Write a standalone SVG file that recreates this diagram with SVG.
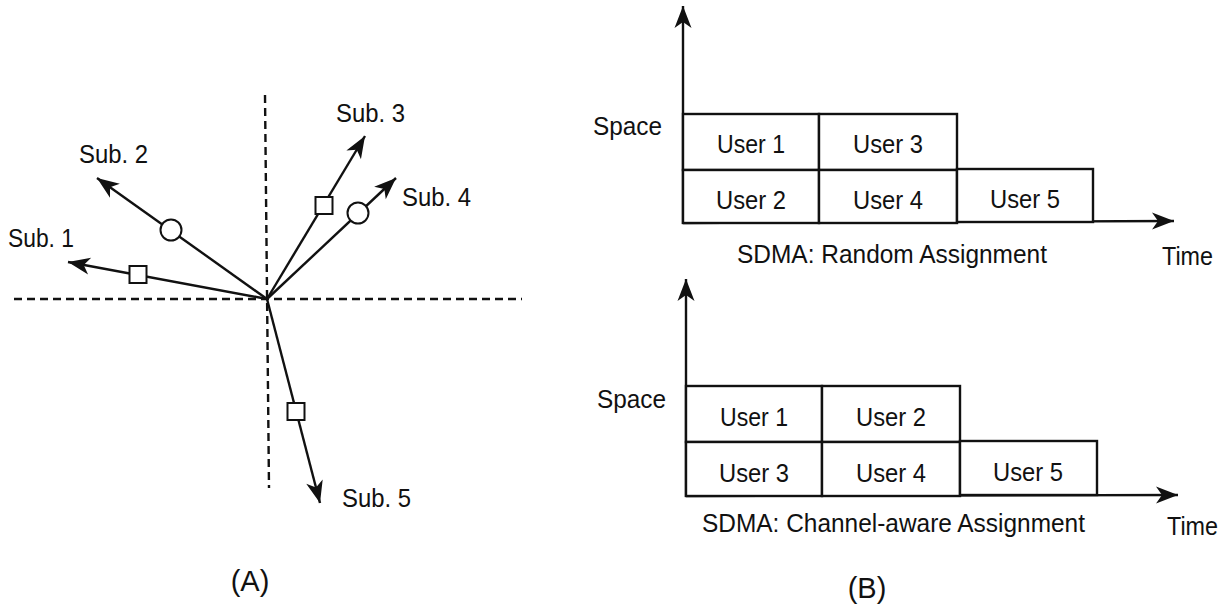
<svg xmlns="http://www.w3.org/2000/svg" width="1230" height="610" viewBox="0 0 1230 610">
<style>
  text { font-family: "Liberation Sans", Arial, sans-serif; font-size: 26px; fill: #111; }
  .lbl { font-size: 29px; }
  .mid { text-anchor: middle; }
  .ax { stroke: #111; stroke-width: 2.4; fill: none; }
  .dash { stroke: #111; stroke-width: 2.4; stroke-dasharray: 8 5; fill: none; }
  .cell { fill: #fff; stroke: #111; stroke-width: 2.4; }
  .mk { fill: #fff; stroke: #111; stroke-width: 2; }
</style>
<defs>
  <marker id="arr" viewBox="-24 -10 26 20" refX="0" refY="0" markerWidth="26" markerHeight="20" markerUnits="userSpaceOnUse" orient="auto">
    <path d="M0,0 L-22,-8.5 L-16,0 L-22,8.5 Z" fill="#111"/>
  </marker>
</defs>
<rect width="1230" height="610" fill="#fff"/>

<!-- Panel A -->
<g id="axesA">
  <line class="dash" x1="14" y1="299" x2="522" y2="299"/>
  <line class="dash" x1="265" y1="95" x2="269" y2="488"/>
</g>
<g id="connectors">
  <line class="ax" x1="267" y1="299" x2="68" y2="262" marker-end="url(#arr)"/>
  <line class="ax" x1="267" y1="299" x2="97" y2="178" marker-end="url(#arr)"/>
  <line class="ax" x1="267" y1="299" x2="365" y2="136" marker-end="url(#arr)"/>
  <line class="ax" x1="267" y1="299" x2="396" y2="178" marker-end="url(#arr)"/>
  <line class="ax" x1="267" y1="299" x2="320" y2="503" marker-end="url(#arr)"/>
  <line class="ax" x1="683" y1="224" x2="683" y2="6" marker-end="url(#arr)"/>
  <line class="ax" x1="683" y1="223" x2="1174" y2="221" marker-end="url(#arr)"/>
  <line class="ax" x1="686" y1="497" x2="686" y2="279" marker-end="url(#arr)"/>
  <line class="ax" x1="686" y1="496" x2="1178" y2="495" marker-end="url(#arr)"/>
</g>
<g id="sub1">
  <rect class="mk" x="129.5" y="266" width="17" height="17"/>
  <text x="8" y="247" textLength="66" lengthAdjust="spacingAndGlyphs">Sub. 1</text>
</g>
<g id="sub2">
  <circle class="mk" cx="171" cy="230" r="10.5"/>
  <text x="79" y="163" textLength="69" lengthAdjust="spacingAndGlyphs">Sub. 2</text>
</g>
<g id="sub3">
  <rect class="mk" x="315.5" y="197" width="17" height="17"/>
  <text x="336" y="122" textLength="69" lengthAdjust="spacingAndGlyphs">Sub. 3</text>
</g>
<g id="sub4">
  <circle class="mk" cx="358" cy="213" r="10.5"/>
  <text x="402" y="206" textLength="69" lengthAdjust="spacingAndGlyphs">Sub. 4</text>
</g>
<g id="sub5">
  <rect class="mk" x="287.5" y="403" width="17" height="17"/>
  <text x="342" y="507" textLength="69" lengthAdjust="spacingAndGlyphs">Sub. 5</text>
</g>
<text id="labelA" class="lbl mid" x="250" y="591">(A)</text>

<!-- Panel B top -->
<g id="top-chart">
  <text x="593" y="135" textLength="69" lengthAdjust="spacingAndGlyphs">Space</text>
  <g id="t-u1"><rect class="cell" x="683" y="114" width="136" height="56"/><text class="mid" x="751" y="153" textLength="68" lengthAdjust="spacingAndGlyphs">User 1</text></g>
  <g id="t-u3"><rect class="cell" x="819" y="114" width="138" height="56"/><text class="mid" x="888" y="153" textLength="70" lengthAdjust="spacingAndGlyphs">User 3</text></g>
  <g id="t-u2"><rect class="cell" x="683" y="170" width="136" height="53"/><text class="mid" x="751" y="209" textLength="70" lengthAdjust="spacingAndGlyphs">User 2</text></g>
  <g id="t-u4"><rect class="cell" x="819" y="170" width="138" height="53"/><text class="mid" x="888" y="209" textLength="70" lengthAdjust="spacingAndGlyphs">User 4</text></g>
  <g id="t-u5"><rect class="cell" x="957" y="169" width="136" height="53"/><text class="mid" x="1025" y="208" textLength="70" lengthAdjust="spacingAndGlyphs">User 5</text></g>
  <text x="737" y="263" textLength="310" lengthAdjust="spacingAndGlyphs">SDMA: Random Assignment</text>
  <text x="1162" y="265" textLength="51" lengthAdjust="spacingAndGlyphs">Time</text>
</g>

<!-- Panel B bottom -->
<g id="bottom-chart">
  <text x="597" y="408" textLength="69" lengthAdjust="spacingAndGlyphs">Space</text>
  <g id="b-u1"><rect class="cell" x="686" y="386" width="136" height="56"/><text class="mid" x="754" y="426" textLength="68" lengthAdjust="spacingAndGlyphs">User 1</text></g>
  <g id="b-u2"><rect class="cell" x="822" y="386" width="138" height="56"/><text class="mid" x="891" y="426" textLength="70" lengthAdjust="spacingAndGlyphs">User 2</text></g>
  <g id="b-u3"><rect class="cell" x="686" y="442" width="136" height="54"/><text class="mid" x="754" y="482" textLength="70" lengthAdjust="spacingAndGlyphs">User 3</text></g>
  <g id="b-u4"><rect class="cell" x="822" y="442" width="138" height="54"/><text class="mid" x="891" y="482" textLength="70" lengthAdjust="spacingAndGlyphs">User 4</text></g>
  <g id="b-u5"><rect class="cell" x="960" y="441" width="137" height="54"/><text class="mid" x="1028" y="481" textLength="70" lengthAdjust="spacingAndGlyphs">User 5</text></g>
  <text x="702" y="532" textLength="383" lengthAdjust="spacingAndGlyphs">SDMA: Channel-aware Assignment</text>
  <text x="1167" y="535" textLength="51" lengthAdjust="spacingAndGlyphs">Time</text>
</g>
<text id="labelB" class="lbl mid" x="867" y="598">(B)</text>
</svg>
